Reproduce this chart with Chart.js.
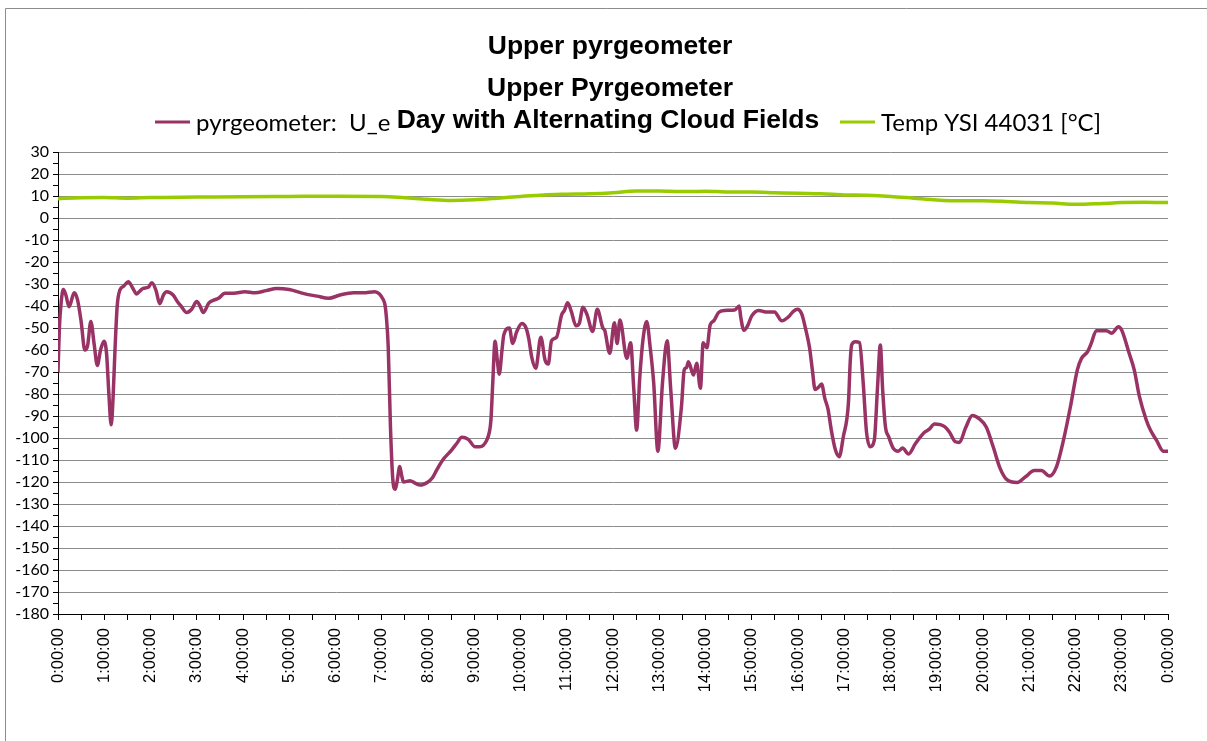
<!DOCTYPE html>
<html>
<head>
<meta charset="utf-8">
<script src="https://cdn.jsdelivr.net/npm/chart.js@4.4.0/dist/chart.umd.min.js"></script>
<style>
  html, body { margin: 0; padding: 0; background: #fff; }
  #wrap { width: 1207px; height: 741px; position: relative; }
</style>
</head>
<body>
<div id="wrap"><canvas id="chartPyr"></canvas></div>
<script>
// hours of day (0..24) and values
var pyrHours = [0.00, 0.03, 0.07, 0.115, 0.17, 0.24, 0.35, 0.42, 0.50, 0.58, 0.64, 0.71, 0.78, 0.85, 0.92, 0.995,
    1.05, 1.10, 1.15, 1.19, 1.23, 1.28, 1.34, 1.42, 1.52, 1.62, 1.70, 1.78, 1.84, 1.95, 2.03, 2.12, 2.20, 2.28, 2.35,
    2.49, 2.58, 2.66, 2.78, 2.89, 3.00, 3.07, 3.14, 3.26, 3.35, 3.47, 3.61, 3.80, 4.04, 4.26, 4.50, 4.73, 5.00, 5.34,
    5.60, 5.85, 6.10, 6.39, 6.60, 6.85, 6.95, 7.03, 7.07, 7.10, 7.14, 7.19, 7.24, 7.29, 7.33, 7.39, 7.43, 7.47, 7.61,
    7.72, 7.83, 8.00, 8.10, 8.19, 8.33, 8.51, 8.62, 8.73, 8.87, 9.02, 9.12, 9.27, 9.33, 9.36, 9.40, 9.45, 9.50, 9.54,
    9.60, 9.64, 9.76, 9.83, 9.92, 10.03, 10.12, 10.18, 10.24, 10.33, 10.44, 10.53, 10.60, 10.67, 10.78, 10.89, 10.95,
    11.02, 11.10, 11.20, 11.27, 11.35, 11.44, 11.56, 11.66, 11.78, 11.82, 11.93, 12.03, 12.09, 12.15, 12.30, 12.38,
    12.45, 12.51, 12.58, 12.65, 12.73, 12.80, 12.88, 12.97, 13.07, 13.17, 13.25, 13.35, 13.48, 13.54, 13.59, 13.63,
    13.74, 13.81, 13.89, 13.95, 14.03, 14.10, 14.18, 14.28, 14.41, 14.63, 14.73, 14.76, 14.83, 14.91, 15.00, 15.15,
    15.30, 15.49, 15.65, 15.80, 15.90, 15.99, 16.08, 16.16, 16.25, 16.31, 16.37, 16.44, 16.51, 16.58, 16.65, 16.72,
    16.81, 16.89, 16.98, 17.09, 17.13, 17.16, 17.24, 17.33, 17.41, 17.48, 17.56, 17.65, 17.72, 17.78, 17.83, 17.89,
    17.96, 18.06, 18.17, 18.26, 18.39, 18.54, 18.73, 18.84, 18.95, 19.17, 19.28, 19.40, 19.49, 19.62, 19.77, 19.92,
    20.07, 20.22, 20.37, 20.51, 20.74, 20.92, 21.11, 21.26, 21.44, 21.59, 21.74, 21.89, 22.04, 22.13, 22.26, 22.34,
    22.45, 22.56, 22.67, 22.78, 22.93, 23.00, 23.16, 23.27, 23.38, 23.53, 23.62, 23.75, 23.90, 24.00];
var pyrValues = [-70, -50, -38, -32.5, -35, -40.3, -34, -37, -47, -60, -58, -47, -57, -67, -60, -56,
    -61.6, -80, -94, -82, -61, -40, -32.7, -31, -29, -32, -34.5, -33, -32, -31.5, -29.4, -33, -39, -35, -33.5,
    -35, -38, -40, -43, -41.5, -38, -40, -43, -38.7, -37.5, -36.5, -34.2, -34.2, -33.5, -34, -33, -32, -32.5, -34.5,
    -35.5, -36.5, -35, -34, -34, -33.5, -34.5, -37, -39.5, -45, -58.5, -96, -119, -123.3, -120, -113, -117, -120, -119.4,
    -120.5, -121.4, -120, -118, -114.5, -109.7, -105.5, -102.5, -99.7, -100.6, -104, -104, -101, -97, -92, -75, -56, -65, -71,
    -60, -53, -50, -57, -51.6, -48, -50, -55, -63, -68.3, -54.2, -64.5, -66.4, -55.8, -54.2, -44, -42,
    -38.5, -42.6, -49, -48, -40.6, -44, -51.6, -41.5, -50, -51, -61.5, -47.6, -57, -46.4, -63.8, -56.7,
    -78, -96.4, -72, -55, -47, -58, -75, -106, -75, -55.8, -78.5, -104.7, -85.8, -69, -68, -65.3,
    -71.4, -66, -77.4, -56.7, -59, -48.6, -46.7, -43, -42, -41.8, -40, -44.8, -51, -49, -44.5, -42,
    -42.7, -42.7, -46.7, -44.8, -42.4, -41.5, -43.6, -50, -59, -69, -78, -77, -75.5, -82, -87, -96.4,
    -105.5, -108.5, -99.4, -84.2, -65, -57.7, -56.2, -56.7, -75, -97, -104, -101, -76.7, -57.7, -78, -94.8,
    -99.4, -104.7, -106, -104.6, -107.3, -102.5, -97.5, -96, -93.6, -94.8, -97.5, -101.7, -102, -95.6, -89.8, -91.3,
    -95, -104, -113.8, -118.8, -120.2, -117.6, -114.8, -114.8, -117.3, -113, -101, -85.8, -69, -63.8, -60.8, -57,
    -51.2, -51.2, -51.2, -52.4, -49.4, -51, -61.5, -69, -81, -91.8, -96.4, -101, -106, -106];

var tempHours = [0, 0.5, 1, 1.5, 2, 3, 4, 5, 6, 7, 7.5, 8, 8.5, 9, 9.5, 10, 10.5, 11, 11.5, 12, 12.5, 13, 13.5,
    14, 14.5, 15, 15.5, 16, 16.5, 17, 17.5, 18, 18.5, 19, 19.5, 20, 20.5, 21, 21.5, 22, 22.5, 23, 23.5, 24];
var tempValues = [8.8, 9.2, 9.3, 9, 9.3, 9.5, 9.7, 9.8, 9.9, 9.8, 9.2, 8.5, 8, 8.3, 9, 9.8, 10.5, 10.8, 11, 11.5, 12.3, 12.3, 12,
    12.2, 11.8, 11.8, 11.5, 11.2, 11, 10.5, 10.3, 9.8, 9, 8.2, 7.8, 7.8, 7.5, 7, 6.8, 6.2, 6.5, 7, 7.2, 7];

var titleLines = ['Upper pyrgeometer', 'Upper Pyrgeometer', 'Day with Alternating Cloud Fields'];
var seriesLabels = ['pyrgeometer:  U_e', 'Temp YSI 44031 [°C]'];

function toPoints(hours, values) {
    return hours.map(function(h, i) { return {x: h, y: values[i]}; });
}

// frame, legend and titles drawn by hand to match the layout
var decorations = {
    id: 'decorations',
    beforeDraw: function(chart) {
        var ctx = chart.ctx;
        ctx.save();
        ctx.fillStyle = '#fff';
        ctx.fillRect(0, 0, chart.width, chart.height);
        ctx.strokeStyle = '#8c8c8c';
        ctx.lineWidth = 1;
        ctx.beginPath();
        ctx.moveTo(5.5, chart.height);
        ctx.lineTo(5.5, 8.5);
        ctx.lineTo(chart.width, 8.5);
        ctx.stroke();
        ctx.restore();
    },
    afterDraw: function(chart) {
        var ctx = chart.ctx;
        var ds = chart.data.datasets;
        ctx.save();
        // legend
        var items = [{x: 155, ds: ds[0]}, {x: 840, ds: ds[1]}];
        items.forEach(function(it) {
            ctx.strokeStyle = it.ds.borderColor;
            ctx.lineWidth = 3;
            ctx.beginPath();
            ctx.moveTo(it.x, 122);
            ctx.lineTo(it.x + 35, 122);
            ctx.stroke();
            ctx.fillStyle = '#000';
            ctx.font = '24px Lato, "Open Sans", sans-serif';
            ctx.textBaseline = 'middle';
            ctx.textAlign = 'left';
            ctx.fillText(it.ds.label, it.x + 41, 123);
        });
        // titles
        ctx.font = 'bold 26.5px "Liberation Sans", Arial, sans-serif';
        ctx.textAlign = 'center';
        ctx.textBaseline = 'middle';
        var w = ctx.measureText(titleLines[2]).width;
        ctx.fillStyle = '#fff';
        ctx.fillRect(608 - w / 2 - 2, 106, w + 4, 28);
        ctx.fillStyle = '#000';
        ctx.fillText(titleLines[0], 610, 47);
        ctx.fillText(titleLines[1], 610, 89);
        ctx.fillText(titleLines[2], 608, 121);
        ctx.restore();
    }
};

var chartPyr = new Chart(document.getElementById('chartPyr'), {
    type: 'line',
    data: {
        datasets: [{
            label: seriesLabels[0],
            borderColor: '#993366',
            backgroundColor: '#993366',
            borderWidth: 3.5,
            data: toPoints(pyrHours, pyrValues),
            pointRadius: 0,
            cubicInterpolationMode: 'monotone',
            fill: false
        }, {
            label: seriesLabels[1],
            borderColor: '#99cc00',
            backgroundColor: '#99cc00',
            borderWidth: 3.5,
            data: toPoints(tempHours, tempValues),
            pointRadius: 0,
            cubicInterpolationMode: 'monotone',
            fill: false
        }]
    },
    options: {
        responsive: true,
        maintainAspectRatio: false,
        animation: false,
        layout: { padding: { top: 152, right: 39, left: 0, bottom: 0 } },
        plugins: {
            legend: { display: false },
            title: { display: false },
            tooltip: { enabled: false }
        },
        scales: {
            x: {
                type: 'linear',
                min: 0,
                max: 24,
                afterFit: function(scale) { scale.height = 127; },
                border: { color: '#000', width: 1 },
                grid: { drawOnChartArea: false, drawTicks: true, tickLength: 6, color: '#000' },
                ticks: {
                    stepSize: 0.5,
                    autoSkip: false,
                    minRotation: 90,
                    maxRotation: 90,
                    padding: 8,
                    color: '#000',
                    font: { family: '"Liberation Sans", Arial, sans-serif', size: 16.5 },
                    callback: function(v) {
                        if (v % 1 !== 0) return '';
                        return (v % 24) + ':00:00';
                    }
                }
            },
            y: {
                min: -180,
                max: 30,
                afterFit: function(scale) { scale.width = 58; },
                border: { color: '#000', width: 1 },
                grid: {
                    drawTicks: true,
                    tickLength: 5,
                    color: function(c) { return c.tick && c.tick.value % 10 === 0 ? '#8c8c8c' : 'rgba(0,0,0,0)'; },
                    tickColor: '#000'
                },
                ticks: {
                    stepSize: 5,
                    autoSkip: false,
                    padding: 4,
                    color: '#000',
                    font: { family: 'Lato, "Open Sans", sans-serif', size: 16 },
                    callback: function(v) { return v % 10 === 0 ? v : ''; }
                }
            }
        }
    },
    plugins: [decorations]
});
</script>
</body>
</html>
